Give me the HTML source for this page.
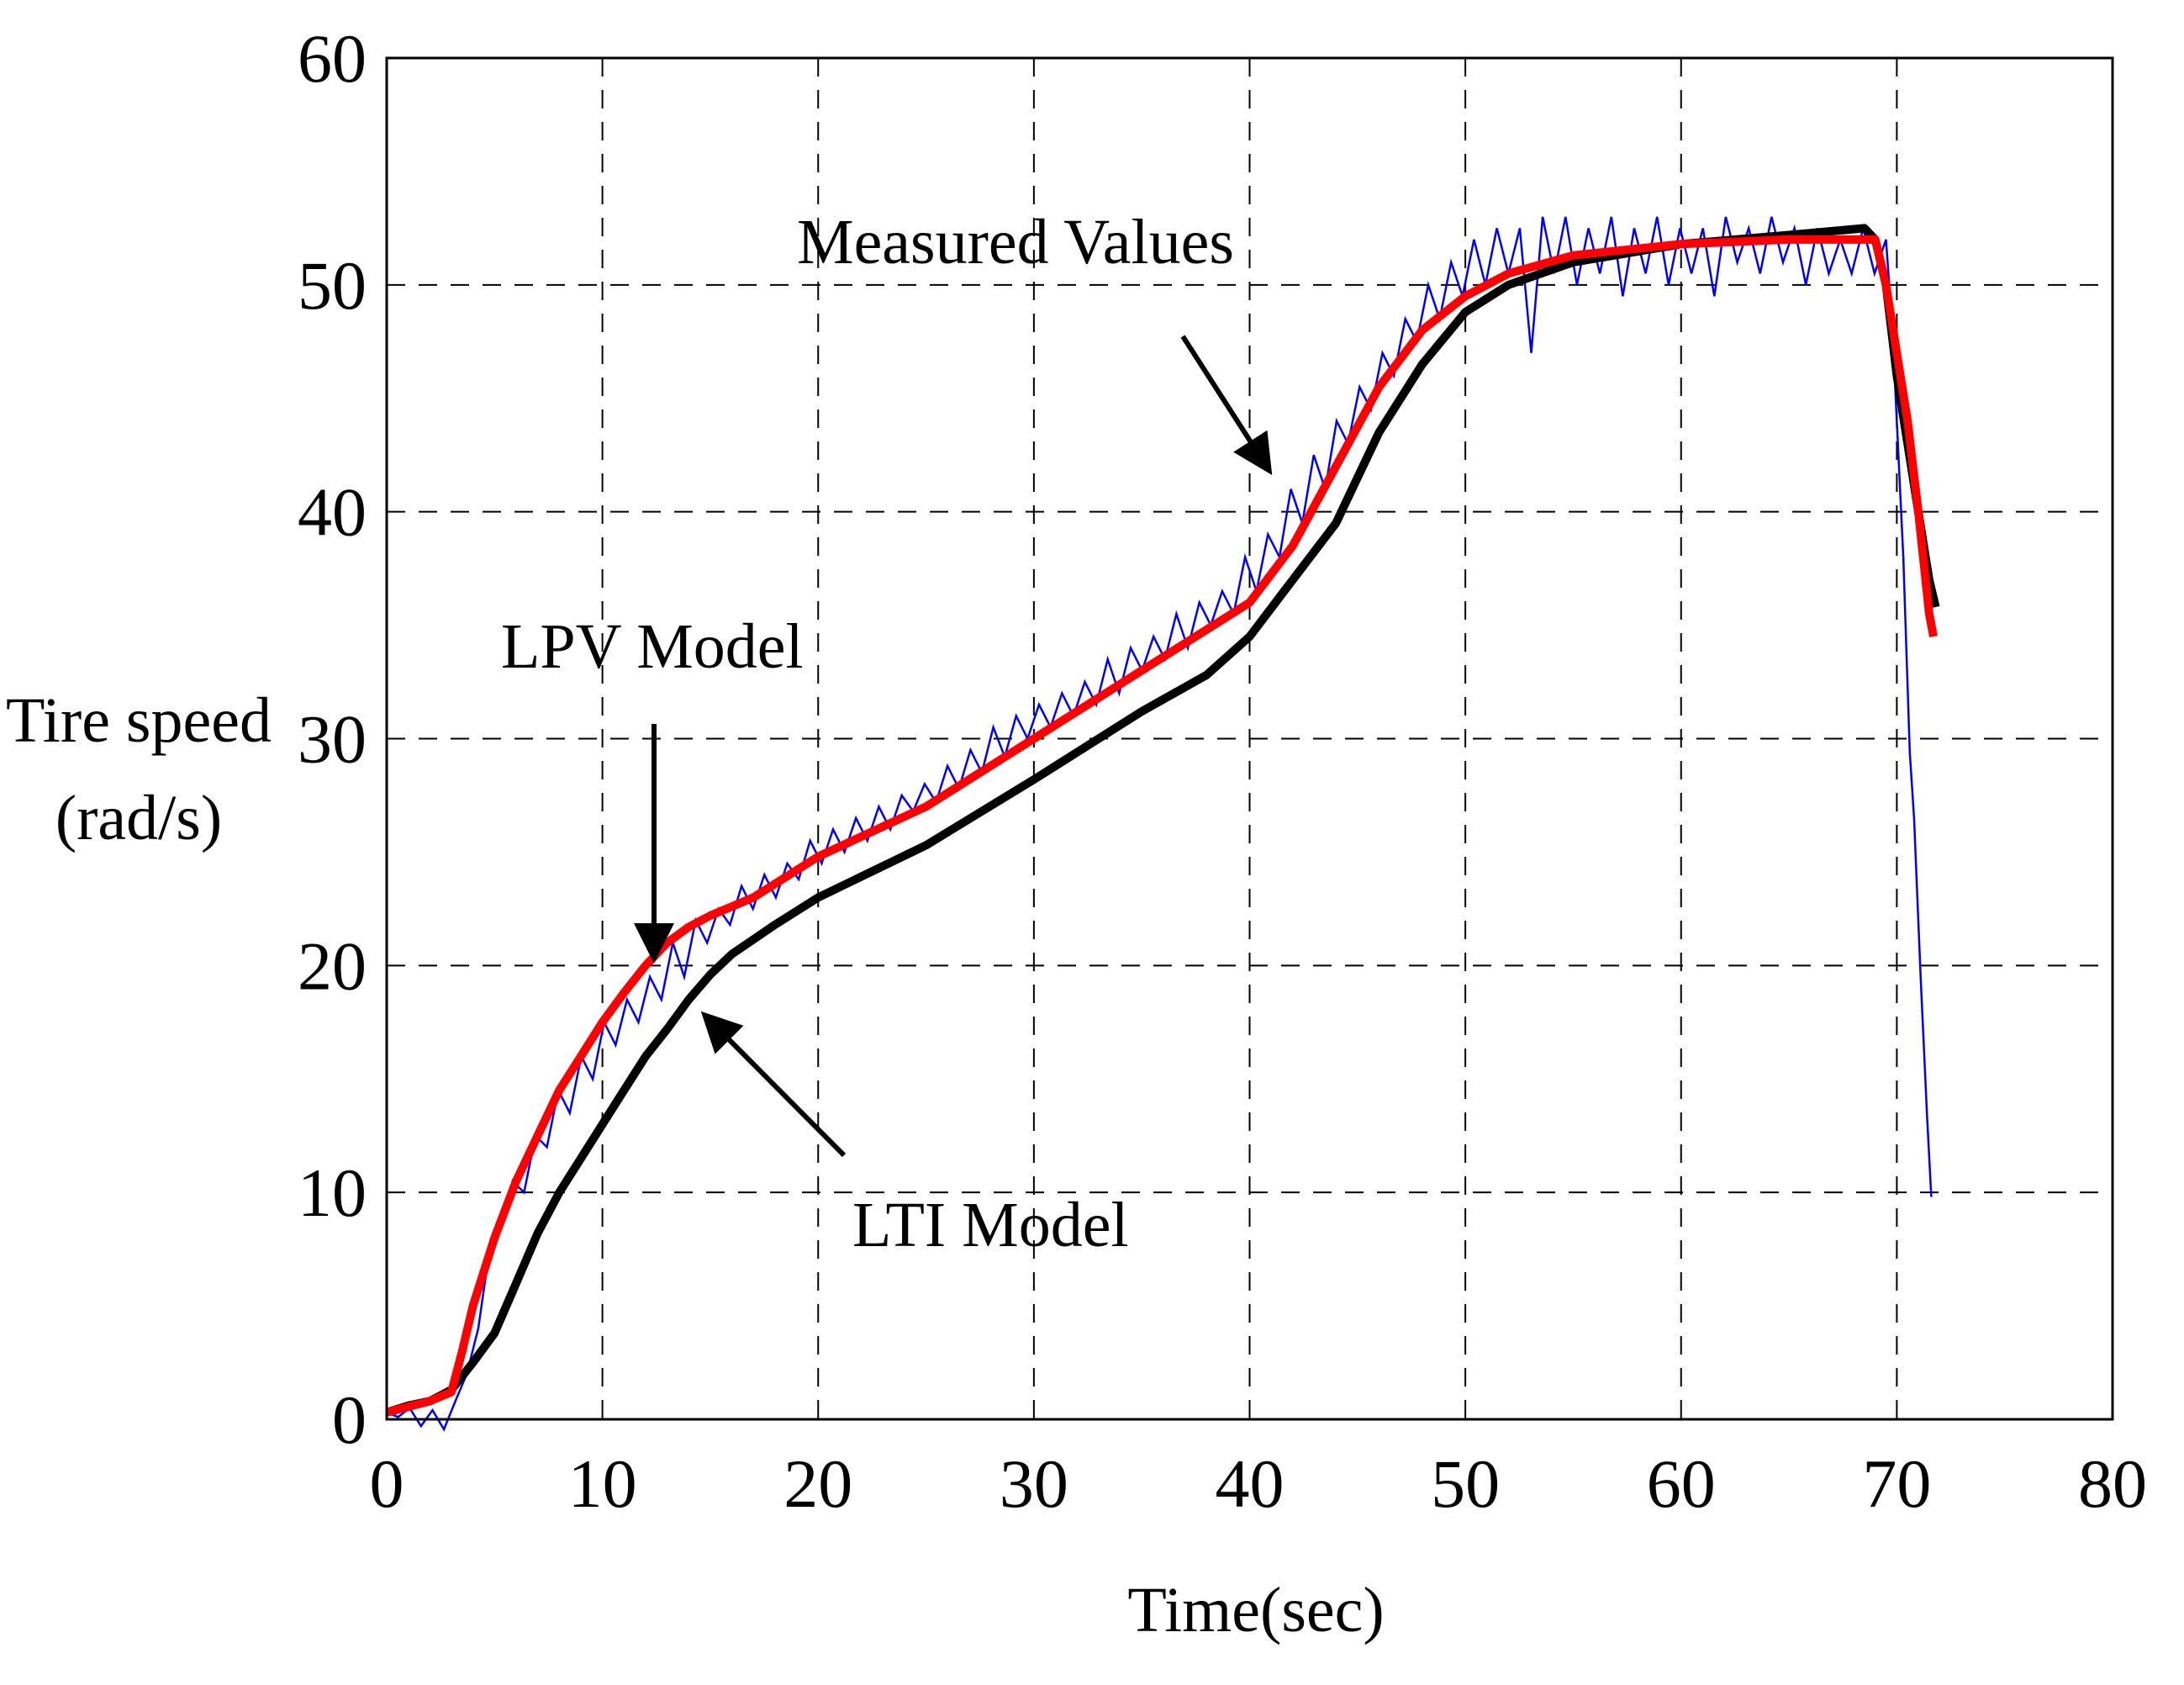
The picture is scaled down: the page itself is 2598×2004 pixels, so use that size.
<!DOCTYPE html>
<html><head><meta charset="utf-8"><style>
body{margin:0;background:#fff}
svg text{font-family:"Liberation Serif",serif;fill:#000}
</style></head><body>
<svg id="chart" width="2598" height="1999" xmlns="http://www.w3.org/2000/svg">
<g id="grid"></g>
<g id="series"></g>
<rect x="460" y="69" width="2053" height="1619" fill="none" stroke="#000" stroke-width="3"/>
<g id="ticks"></g>
<text x="165" y="882" font-size="76" text-anchor="middle">Tire speed</text>
<text x="165" y="998" font-size="76" text-anchor="middle">(rad/s)</text>
<text x="1494" y="1940" font-size="76" text-anchor="middle">Time(sec)</text>
<text x="948" y="313" font-size="76">Measured Values</text>
<text x="596" y="794" font-size="76">LPV Model</text>
<text x="1014" y="1482" font-size="76">LTI Model</text>
<defs><marker id="ah" markerWidth="8" markerHeight="8" refX="7" refY="4" orient="auto" markerUnits="strokeWidth"><path d="M0,0 L8,4 L0,8 z" fill="#000"/></marker></defs>
<line x1="1407" y1="400" x2="1510" y2="560" stroke="#000" stroke-width="6" marker-end="url(#ah)"/>
<line x1="778" y1="861" x2="778" y2="1140" stroke="#000" stroke-width="6" marker-end="url(#ah)"/>
<line x1="1004" y1="1374" x2="838" y2="1207" stroke="#000" stroke-width="6" marker-end="url(#ah)"/>
</svg>
<script>
const xTicks=[0,10,20,30,40,50,60,70,80];
const yTicks=[0,10,20,30,40,50,60];
const lpvT=[0,2,3,3.5,4,5,6,7,8,9,10,11,12,13,14,15,17,20,25,30,35,38,40,42,44,46,48,50,52,55,60,65,69,69.5,70.5,71,71.5,71.7];
const lpvV=[0.3,0.8,1.2,3,5,8,10.5,12.5,14.5,16,17.5,18.8,20,21,21.7,22.2,23,24.8,27,30,33,34.8,36,38.5,42,45.5,48,49.5,50.5,51.3,51.8,52,52,50,44,40,35.5,34.5];
const ltiT=[0,1,2,3,4,5,6,7,8,9,10,11,12,13,14,15,16,18,20,25,30,35,38,40,42,44,45,46,48,50,52,55,60,65,68.5,69,69.5,70,70.5,71,71.5,71.8];
const ltiV=[0.3,0.6,0.8,1.3,2.5,3.8,6,8.2,10,11.5,13,14.5,16,17.2,18.5,19.6,20.5,21.8,23,25.3,28.2,31.2,32.8,34.5,37,39.5,41.5,43.5,46.5,48.8,50,51,51.8,52.2,52.5,52,50,46,43,40,37,35.8];
const measuredV=[0.3,0.1,0.5,-0.3,0.4,-0.5,0.8,2,4,7.5,8.5,10.5,10,12.5,12,14.5,13.5,16,15,17.5,16.5,18.5,17.5,19.5,18.5,21,19.5,22,21,22.5,21.8,23.5,22.5,24,23,24.5,23.8,25.5,24.5,26,25,26.5,25.5,27,26,27.5,26.8,28,27.2,28.8,27.8,29.5,28.5,30.5,29.2,31,30,31.5,30.5,32,31,32.5,31.5,33.5,32,34,33,34.5,33.5,35.5,34,36,35,36.5,35.5,38,36.5,39,38,41,39.5,42.5,41,44,43,45.5,44.5,47,46,48.5,47.5,50,48.5,51,49.5,52,50,52.5,50.5,52.5,47,53,50.5,53,50,52.5,50.5,53,49.5,52.5,50.5,53,50,52.5,50.5,52.5,49.5,53,51,52.5,50.5,53,51,52.5,50,52.5,50.5,52,50.5,52.5,50.5,52];
const measuredTEnd=69.5;
const tailT=[69.5,69.8,70.3,70.6,70.8,71.1,71.4,71.6];
const tailV=[52,48,38,29.4,26.5,19.6,13.4,9.8];
const L=460,R=2513,T=69,B=1688;
const X=t=>L+(t-0)/(80-0)*(R-L);
const Y=v=>B-(v-0)/(60-0)*(B-T);
const NS='http://www.w3.org/2000/svg';
function mk(tag,parent,attrs){const e=document.createElementNS(NS,tag);for(const k in attrs)e.setAttribute(k,attrs[k]);parent.appendChild(e);return e;}
const grid=document.getElementById('grid'),ticks=document.getElementById('ticks'),series=document.getElementById('series');
xTicks.forEach(t=>{
  if(t>0&&t<80){const g=mk('line',grid,{x1:X(t),x2:X(t),y1:T,y2:B,stroke:'#000','stroke-width':2,'stroke-dasharray':'22,16'});
  
  }
  const tx=mk('text',ticks,{x:X(t),y:B+104,'font-size':82,'text-anchor':'middle'});tx.textContent=t;
  
  
});
yTicks.forEach(v=>{
  if(v>0&&v<60){const g=mk('line',grid,{x1:L,x2:R,y1:Y(v),y2:Y(v),stroke:'#000','stroke-width':2,'stroke-dasharray':'22,16'});
  
  }
  const tx=mk('text',ticks,{x:L-24,y:Y(v)+28,'font-size':82,'text-anchor':'end'});tx.textContent=v;
  
  
});
function pts(ts,vs){return ts.map((t,i)=>X(t).toFixed(1)+','+Math.min(B+12,Y(vs[i])).toFixed(1)).join(' ');}
const mT=measuredV.map((_,i)=>i*measuredTEnd/(measuredV.length-1)).concat(tailT);
const mV=measuredV.concat(tailV);
const m=mk('polyline',series,{points:pts(mT,mV),fill:'none',stroke:'#0000ff','stroke-width':2.5});


const l2=mk('polyline',series,{points:pts(ltiT,ltiV),fill:'none',stroke:'#000','stroke-width':10,'stroke-linejoin':'round'});


const l1=mk('polyline',series,{points:pts(lpvT,lpvV),fill:'none',stroke:'#ff0000','stroke-width':10,'stroke-linejoin':'round'});


</script>
</body></html>
